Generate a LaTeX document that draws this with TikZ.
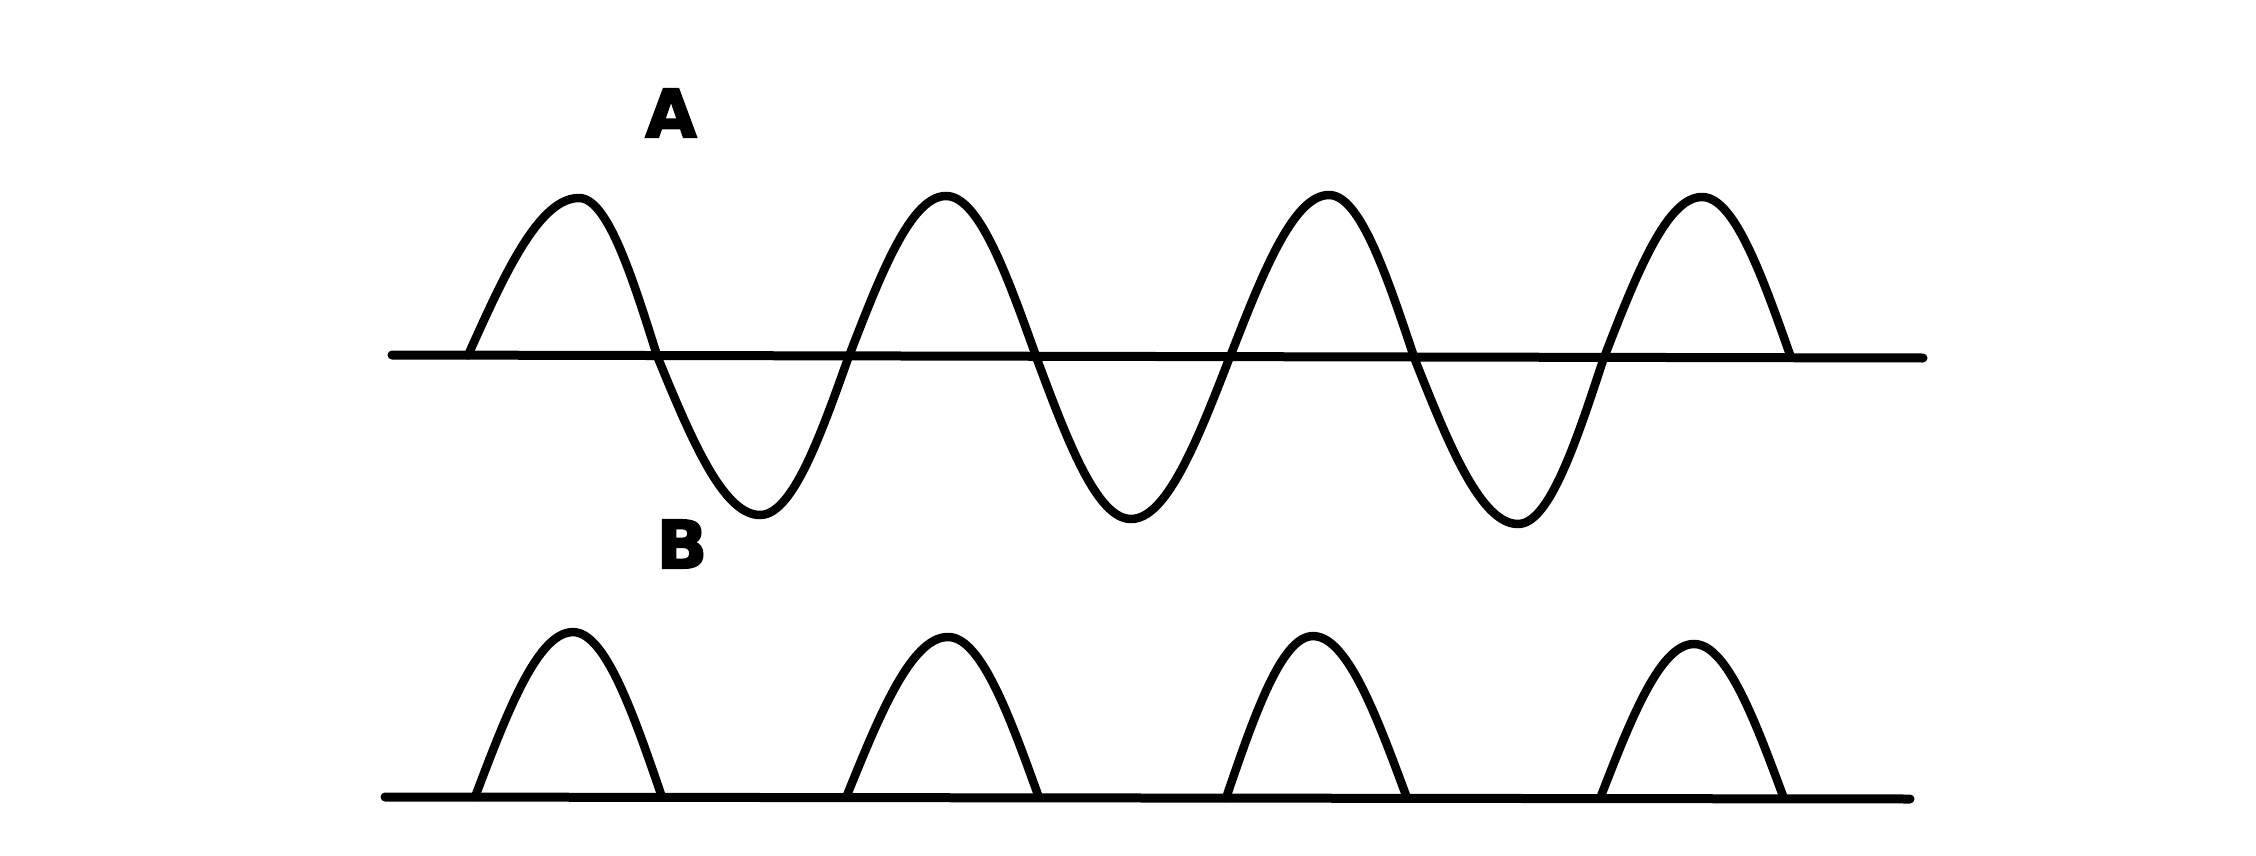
\documentclass[tikz,border=0pt]{standalone}
\usepackage{fontspec}
\newfontfamily\lblfont[RawFeature={embolden=3}]{DejaVu Sans Bold}
\begin{document}
\begin{tikzpicture}[x=1pt,y=-1pt,
  axisline/.style={line width=9pt,line cap=round},
  waveline/.style={line width=8.5pt,line join=round,line cap=round},
  lbl/.style={inner sep=0pt,font=\lblfont\fontsize{66}{66}\selectfont}]
\useasboundingbox[fill=white] (0,0) rectangle (2256,856);
% labels
\node[lbl] (labA) at (671,113) {A};
\node[lbl] (labB) at (682,544) {B};
% axes
\coordinate (aL) at (392,355);
\coordinate (aR) at (1923,358);
\coordinate (bL) at (385,797);
\coordinate (bR) at (1910,799);
\draw[axisline] (aL) -- (aR);
\draw[axisline] (bL) -- (bR);
% wave A: half cycles (crossing / extremum / crossing / baseline / signed amplitude)
\foreach \ca/\p/\cb/\yb/\amp in {468/579/657/355.4/157.4, 657/760/849/355.7/-159.3,
    849/946/1036/356.1/160.1, 1036/1131/1230/356.5/-162.5,
    1230/1329/1414/356.9/161.9, 1414/1518/1604/357.3/-166.7,
    1604/1702/1791/357.6/160.6}{
  \draw[waveline] plot[smooth,samples=40,domain=0:90]
    ({\ca+(\p-\ca)*\x/90},{\yb-\amp*sin(\x)})
    -- plot[smooth,samples=40,domain=0:90]
    ({\p+(\cb-\p)*\x/90},{\yb-\amp*cos(\x)});
}
% wave B: half-wave rectified humps
\foreach \ca/\p/\cb/\yb/\amp in {475/573/662/797.1/165, 846/948/1039/797.7/160.7,
    1226/1313/1407/798.1/162, 1600/1694/1784/798.6/154.6}{
  \draw[waveline] plot[smooth,samples=40,domain=0:90]
    ({\ca+(\p-\ca)*\x/90},{\yb-\amp*sin(\x)})
    -- plot[smooth,samples=40,domain=0:90]
    ({\p+(\cb-\p)*\x/90},{\yb-\amp*cos(\x)});
}
\end{tikzpicture}
\end{document}
